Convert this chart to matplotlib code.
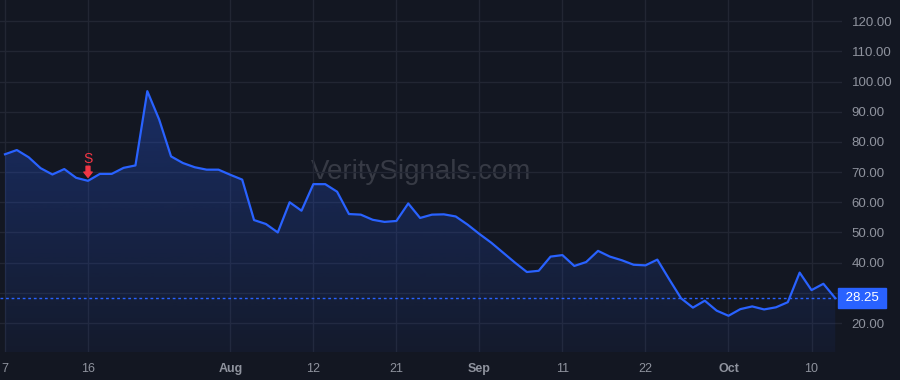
import matplotlib
matplotlib.use('Agg')
import matplotlib.pyplot as plt
import numpy as np
from matplotlib.transforms import blended_transform_factory

# trading days from Jul 7 to Oct 14, one value per session
prices = [75.9, 77.3, 74.9, 71.3, 69.2, 71.0, 68.1, 67.1, 69.4, 69.4,
          71.4, 72.2, 96.8, 87.4, 75.2, 73.0, 71.6, 70.8, 70.8, 69.1,
          67.5, 54.1, 52.8, 50.0, 60.0, 57.2, 66.0, 66.0, 63.5, 56.1,
          55.9, 54.2, 53.5, 53.8, 59.6, 54.8, 55.9, 56.0, 55.3, 52.6,
          49.5, 46.6, 43.3, 40.0, 36.9, 37.3, 42.0, 42.5, 38.9, 40.2,
          43.9, 42.0, 40.8, 39.3, 39.1, 41.0, 34.5, 28.2, 25.1, 27.4,
          24.1, 22.4, 24.6, 25.5, 24.5, 25.2, 26.9, 36.7, 30.9, 33.0,
          28.25]
tick_idx = [0, 7, 19, 26, 33, 40, 47, 54, 61, 68]
tick_labels = ['7', '16', 'Aug', '12', '21', 'Sep', '11', '22', 'Oct', '10']
month_labels = ['Aug', 'Sep', 'Oct']
y_ticks = [20, 30, 40, 50, 60, 70, 80, 90, 100, 110, 120]
signal_idx = 7
signal_text = 'S'
watermark = 'VeritySignals.com'

BG = '#131722'
GRID = '#222633'
LINE = '#2962ff'
TXT = '#8f939e'

plt.rcParams['font.family'] = ['Liberation Sans', 'DejaVu Sans']

fig = plt.figure(figsize=(9, 3.8), dpi=100, facecolor=BG)
ax = fig.add_axes([0, 28 / 380, 842 / 900, 352 / 380], facecolor=BG)

x = np.arange(len(prices))
y = np.array(prices)
ax.set_xlim(-0.42, 70.57)
ax.set_ylim(10.4, 127.0)

# gradient fill under the line
top = y.max()
grad = np.linspace(0.05, 0.30, 256).reshape(-1, 1)
rgba = np.zeros((256, 1, 4))
rgba[..., 0], rgba[..., 1], rgba[..., 2] = 0x29 / 255, 0x62 / 255, 1.0
rgba[..., 3] = grad
poly = ax.fill_between(x, y, 10.4, color='none', lw=0)
img = ax.imshow(rgba, aspect='auto', origin='lower',
                extent=[x[0], x[-1], 10.4, top], zorder=1)
img.set_clip_path(poly.get_paths()[0], transform=ax.transData)

ax.plot(x, y, color=LINE, lw=1.6, zorder=3, solid_joinstyle='round')

# last price line and label
last = prices[-1]
ax.axhline(last, color=LINE, lw=1.0, ls=(0, (2, 2)), zorder=2)
tr = blended_transform_factory(ax.transAxes, ax.transData)
ax.text(1.0, last, f' {last:.2f} ', transform=tr, ha='left', va='center',
        color='white', fontsize=9.5, zorder=5, clip_on=False,
        bbox=dict(boxstyle='square,pad=0.28', fc=LINE, ec=LINE))

# sell signal marker
ax.annotate('', xy=(signal_idx, prices[signal_idx]), xytext=(0, 10.5),
            textcoords='offset points',
            arrowprops=dict(arrowstyle='simple,head_width=0.6,head_length=0.38,tail_width=0.28',
                            color='#f23645', shrinkA=0, shrinkB=2.5),
            zorder=4)
ax.annotate(signal_text, xy=(signal_idx, prices[signal_idx]), xytext=(0, 15.5),
            textcoords='offset points', ha='center', va='center',
            color='#f23645', fontsize=10, zorder=4)

ax.text(0.5, 0.51, watermark, transform=ax.transAxes, ha='center', va='center',
        color='#9598a1', alpha=0.28, fontsize=20, zorder=0)

# axes, grid, ticks
ax.set_xticks(tick_idx)
ax.set_xticklabels(tick_labels)
for lab in ax.get_xticklabels():
    if lab.get_text() in month_labels:
        lab.set_fontweight('bold')
        lab.set_color('#a9acb5')
ax.set_yticks(y_ticks)
ax.set_yticklabels([f'{v:.2f}' for v in y_ticks])
ax.yaxis.tick_right()
ax.tick_params(axis='y', length=0, pad=7, labelsize=9.5, labelcolor=TXT)
ax.tick_params(axis='x', length=0, pad=8, labelsize=9, labelcolor=TXT)
ax.grid(True, color=GRID, lw=1.0)
ax.set_axisbelow(True)
for s in ax.spines.values():
    s.set_visible(False)

fig.savefig('out.png', dpi=100, facecolor=BG)
